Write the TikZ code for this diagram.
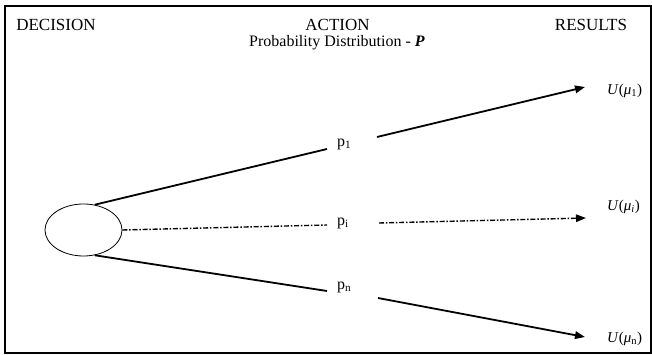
\documentclass[tikz,border=0pt]{standalone}
\usepackage{fontspec}
\setmainfont{Liberation Serif}
\usetikzlibrary{shapes.geometric,arrows.meta}
\begin{document}
\begin{tikzpicture}[x=1pt,y=1pt,
  head/.style={font=\fontsize{17}{19}\selectfont, inner sep=0pt},
  sub/.style={font=\fontsize{16}{18}\selectfont, inner sep=0pt},
  plab/.style={font=\fontsize{16}{18}\selectfont, inner sep=0pt, anchor=west},
  ulab/.style={font=\fontsize{15}{17}\selectfont, inner sep=0pt, anchor=west},
  solidline/.style={line width=1.8pt},
  dotline/.style={line width=1.4pt, dash pattern=on 5pt off 1.8pt on 1.5pt off 1.8pt},
  arr/.style={-{Triangle[length=10pt,width=7.5pt]}}]
\useasboundingbox (0,0) rectangle (652,355);
\draw[line width=2pt] (5,1.5) rectangle (650.5,349);
% headings
\node[head] (dec) at (56,330) {DECISION};
\node[head] (act) at (337.5,330) {ACTION};
\node[sub] (pd) at (337,312) {Probability Distribution - \textbf{\textit{P}}};
\node[head] (res) at (591,330) {RESULTS};
% decision node
\node[draw, ellipse, line width=0.8pt, minimum width=77pt, minimum height=52pt, inner sep=0pt] (d) at (83.5,125) {};
% probability labels
\node[plab] (p1) at (337,211) {p\textsubscript{1}};
\node[plab] (pi) at (337,132) {p\textsubscript{i}};
\node[plab] (pn) at (337,68) {p\textsubscript{n}};
% results
\node[ulab] (u1) at (607,264) {\textit{U}(\textit{μ}\textsubscript{1})};
\node[ulab] (ui) at (607,148) {\textit{U}(\textit{μ}\textsubscript{\textit{i}})};
\node[ulab] (un) at (607,16) {\textit{U}(\textit{μ}\textsubscript{n})};
% free ends near the labels
\coordinate (a1) at (327,206);
\coordinate (b1) at (377,218);
\coordinate (ai) at (327,130);
\coordinate (bi) at (379,132);
\coordinate (an) at (327,64);
\coordinate (bn) at (378,57);
\coordinate (c1) at (585,268);
\coordinate (ci) at (586,137);
\coordinate (cn) at (585,18);
% connectors
\draw[solidline] (d.66) -- (a1);
\draw[solidline, arr] (b1) -- (c1);
\draw[dotline] (d.east) -- (ai);
\draw[dotline, arr] (bi) -- (ci);
\draw[solidline] (d.-66) -- (an);
\draw[solidline, arr] (bn) -- (cn);
\end{tikzpicture}
\end{document}
